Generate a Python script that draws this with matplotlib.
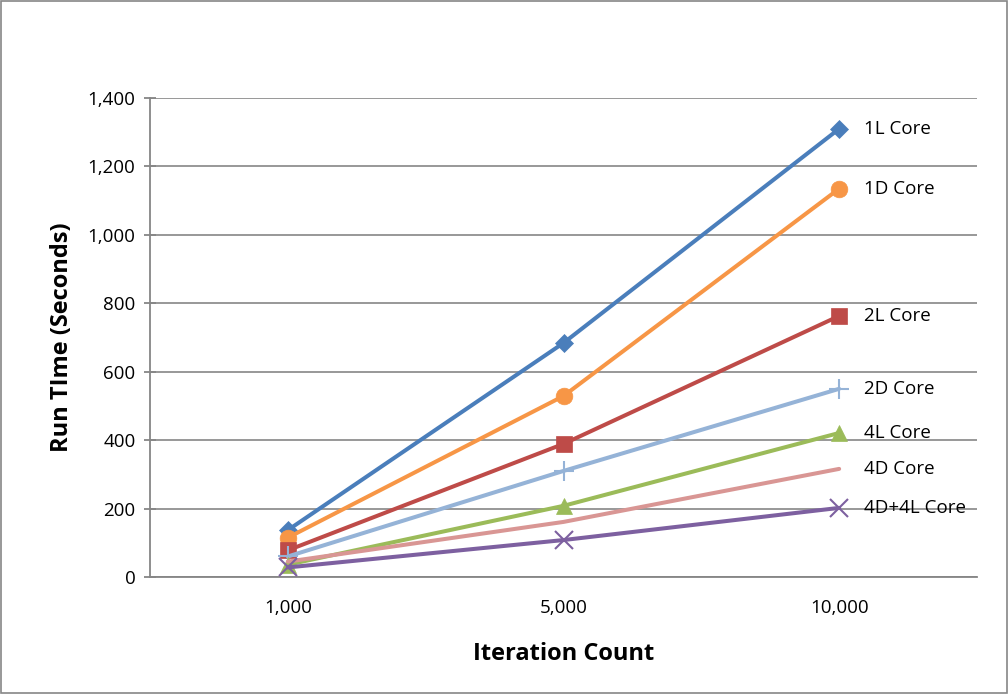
import numpy as np
import matplotlib
matplotlib.use("Agg")
import matplotlib.pyplot as plt
from matplotlib.ticker import FuncFormatter

# -----------------------------
# Data
# -----------------------------
iterations = ["1,000", "5,000", "10,000"]
series_names = ["1L Core", "1D Core", "2L Core", "2D Core", "4L Core", "4D Core", "4D+4L Core"]
one_l = [137, 684, 1310]
one_d = [115, 529, 1135]
two_l = [78, 389, 763]
two_d = [60, 310, 550]
four_l = [36, 208, 421]
four_d = [45, 161, 316]
four_dl = [28, 108, 202]

colors = ["#4A7EBB", "#F79646", "#BE4B48", "#95B3D7", "#9BBB59", "#D99694", "#7D60A0"]
markers = ["D", "o", "s", "+", "^", None, "x"]
msizes = [9, 12, 11, 14, 12, 0, 13]

plt.rcParams['font.family'] = ['Open Sans', 'DejaVu Sans']

fig = plt.figure(figsize=(10.08, 6.94), dpi=100)
ax = fig.add_axes([150 / 1008, 1 - 577 / 694, (977 - 150) / 1008, (577 - 98) / 694])

x = np.arange(len(iterations))
all_series = [one_l, one_d, two_l, two_d, four_l, four_d, four_dl]
for vals, name, c, m, ms in zip(all_series, series_names, colors, markers, msizes):
    ax.plot(x, vals, color=c, lw=2.9, marker=m, markersize=ms,
            markeredgewidth=1.5 if m in ("+", "x") else 0.5, markeredgecolor=c,
            solid_capstyle="round", zorder=3)
    ax.annotate(name, (x[-1], vals[-1]), xytext=(18, 0), textcoords="offset points",
                va="center", ha="left", fontsize=13.5, color="#000000")

ax.set_xlim(-0.5, 2.5)
ax.set_ylim(0, 1400)
ax.set_yticks(np.arange(0, 1401, 200))
ax.yaxis.set_major_formatter(FuncFormatter(lambda v, p: f"{int(v):,}"))
ax.set_xticks(x)
ax.set_xticklabels(iterations)
ax.tick_params(axis="x", length=0, pad=16, labelsize=13.5)
ax.tick_params(axis="y", direction="inout", length=9, color="#868686", width=1.3, pad=6, labelsize=13.5)
ax.grid(axis="y", color="#868686", lw=1.2)
ax.set_axisbelow(True)
for s in ["top", "right"]:
    ax.spines[s].set_visible(False)
for s in ["left", "bottom"]:
    ax.spines[s].set_color("#868686")
    ax.spines[s].set_linewidth(1.3)

ax.set_ylabel("Run TIme (Seconds)", fontsize=17, fontweight="bold", labelpad=10)
ax.set_xlabel("Iteration Count", fontsize=17, fontweight="bold", labelpad=18)

# outer chart border
fig.patches.append(plt.Rectangle((0.001, 0.001), 0.998, 0.998, transform=fig.transFigure,
                                 fill=False, edgecolor="#868686", lw=1.2))

fig.savefig("out.png", dpi=100)
